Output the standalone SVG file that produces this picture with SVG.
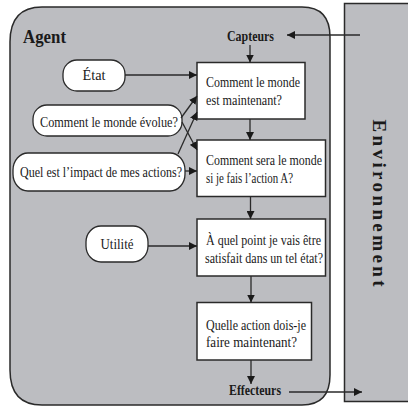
<svg xmlns="http://www.w3.org/2000/svg" width="408" height="407" viewBox="0 0 408 407">
<style>
.frame{fill:#bcbdc1;stroke:#2a2a2a;stroke-width:1.5}
.box{fill:#fff;stroke:#2a2a2a;stroke-width:1.5}
.pill{fill:#fff;stroke:#2a2a2a;stroke-width:1.3}
.t{font-family:"Liberation Serif","Times New Roman",serif;font-size:15px;fill:#1a1a1a}
.b{font-family:"Liberation Serif","Times New Roman",serif;font-weight:bold;fill:#1a1a1a}
.c{fill:none;stroke:#2a2a2a;stroke-width:1.3}
</style>
<defs>
<marker id="ah" viewBox="0 0 10 10" refX="10" refY="5" markerWidth="8" markerHeight="8" markerUnits="userSpaceOnUse" orient="auto">
<path d="M0,0 L10,5 L0,10 Z" fill="#1a1a1a"/>
</marker>
</defs>
<g id="environment">
<path class="frame" d="M408,3.5 H344.5 V401.5 H408"/>
<text class="b" font-size="19" text-anchor="middle" textLength="167" lengthAdjust="spacing" transform="translate(373,203) rotate(90)">Environnement</text>
</g>
<g id="agent">
<path class="frame" d="M42,7 H302 Q330,7 330,37 V375 Q330,405 302,405 H42 Q10,405 10,370 V42 Q10,7 42,7 Z"/>
<text class="b" x="23" y="43" font-size="19" textLength="43" lengthAdjust="spacingAndGlyphs">Agent</text>
</g>
<g id="capteurs"><text class="b" x="227" y="41" font-size="15" textLength="47" lengthAdjust="spacingAndGlyphs">Capteurs</text></g>
<g id="effecteurs"><text class="b" x="229" y="395" font-size="15" textLength="52" lengthAdjust="spacingAndGlyphs">Effecteurs</text></g>
<g id="box1">
<rect class="box" x="197" y="62.5" width="108" height="56.5"/>
<text class="t" x="206" y="87" textLength="94" lengthAdjust="spacingAndGlyphs">Comment le monde</text>
<text class="t" x="206" y="105" textLength="76" lengthAdjust="spacingAndGlyphs">est maintenant?</text>
</g>
<g id="box2">
<rect class="box" x="197" y="140" width="128.5" height="56.5"/>
<text class="t" x="206" y="165" textLength="116" lengthAdjust="spacingAndGlyphs">Comment sera le monde</text>
<text class="t" x="206" y="183" textLength="87" lengthAdjust="spacingAndGlyphs">si je fais l’action A?</text>
</g>
<g id="box3">
<rect class="box" x="197" y="219" width="128.5" height="57"/>
<text class="t" x="206" y="245" textLength="115" lengthAdjust="spacingAndGlyphs">À quel point je vais être</text>
<text class="t" x="205" y="263" textLength="118" lengthAdjust="spacingAndGlyphs">satisfait dans un tel état?</text>
</g>
<g id="box4">
<rect class="box" x="197" y="302.5" width="114.5" height="57.5"/>
<text class="t" x="206" y="330" textLength="100" lengthAdjust="spacingAndGlyphs">Quelle action dois-je</text>
<text class="t" x="206" y="347" textLength="91" lengthAdjust="spacingAndGlyphs">faire maintenant?</text>
</g>
<g id="etat">
<rect class="pill" x="63" y="60" width="62" height="31" rx="14" ry="14"/>
<text class="t" x="94" y="80" text-anchor="middle" textLength="23" lengthAdjust="spacingAndGlyphs">État</text>
</g>
<g id="evolue">
<rect class="pill" x="33" y="105" width="149" height="31" rx="14" ry="14"/>
<text class="t" x="40" y="127" textLength="138" lengthAdjust="spacingAndGlyphs">Comment le monde évolue?</text>
</g>
<g id="impact">
<rect class="pill" x="13" y="153" width="172" height="38" rx="15" ry="17"/>
<text class="t" x="20" y="177" textLength="162" lengthAdjust="spacingAndGlyphs">Quel est l’impact de mes actions?</text>
</g>
<g id="utilite">
<rect class="pill" x="86" y="226" width="62" height="36" rx="15" ry="16"/>
<text class="t" x="117" y="249" text-anchor="middle" textLength="33" lengthAdjust="spacingAndGlyphs">Utilité</text>
</g>
<g id="connectors">
<line class="c" x1="360" y1="35" x2="287" y2="35" marker-end="url(#ah)"/>
<line class="c" x1="250" y1="45" x2="250" y2="62.5" marker-end="url(#ah)"/>
<line class="c" x1="250" y1="119" x2="250" y2="140" marker-end="url(#ah)"/>
<line class="c" x1="250.5" y1="196.5" x2="250.5" y2="219" marker-end="url(#ah)"/>
<line class="c" x1="251" y1="276" x2="251" y2="302.5" marker-end="url(#ah)"/>
<line class="c" x1="251" y1="360" x2="251" y2="384" marker-end="url(#ah)"/>
<line class="c" x1="289" y1="392" x2="362" y2="392" marker-end="url(#ah)"/>
<line class="c" x1="125" y1="75" x2="197" y2="75" marker-end="url(#ah)"/>
<line class="c" x1="181" y1="118" x2="197" y2="96" marker-end="url(#ah)"/>
<line class="c" x1="178" y1="154" x2="197" y2="112" marker-end="url(#ah)"/>
<line class="c" x1="182" y1="122" x2="197" y2="150" marker-end="url(#ah)"/>
<line class="c" x1="185" y1="171" x2="197" y2="171" marker-end="url(#ah)"/>
<line class="c" x1="148" y1="246" x2="197" y2="246" marker-end="url(#ah)"/>
</g>
</svg>
